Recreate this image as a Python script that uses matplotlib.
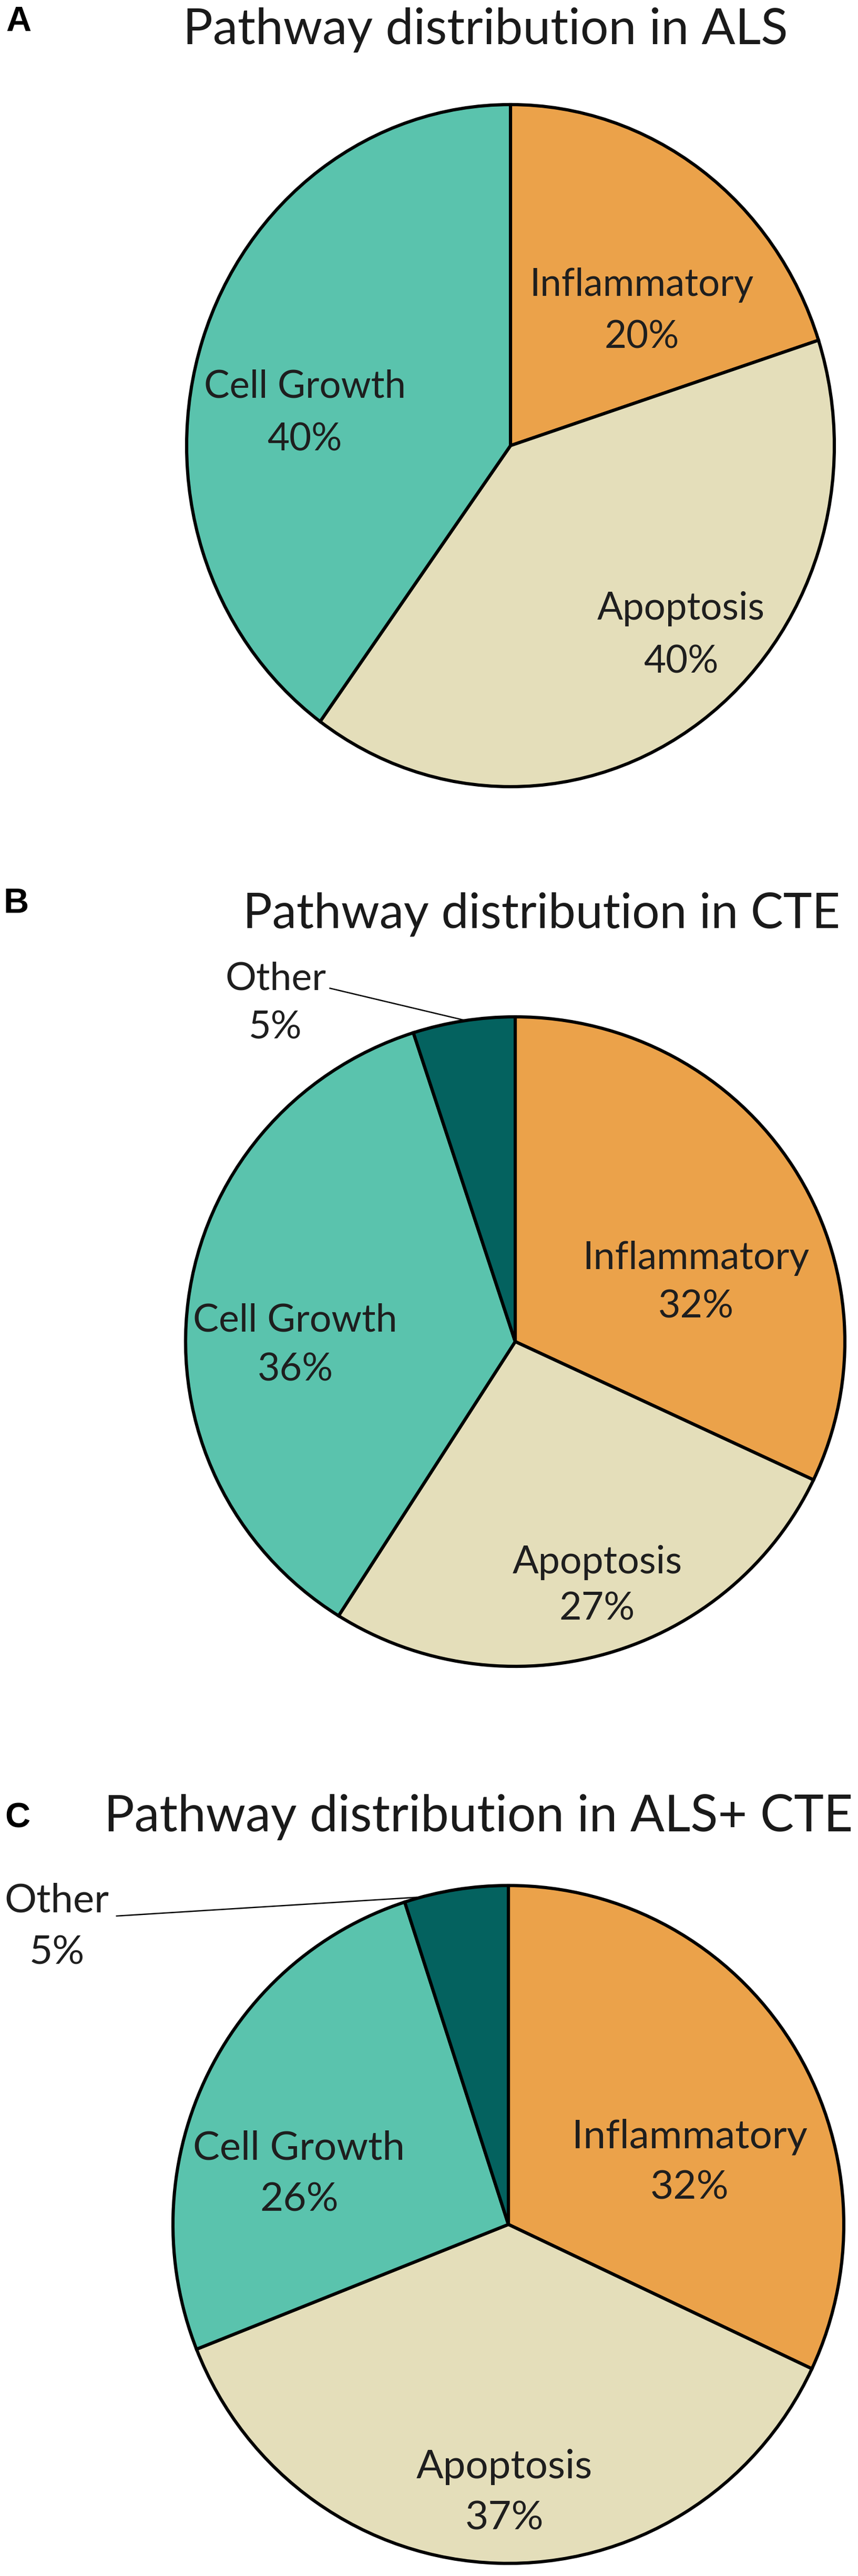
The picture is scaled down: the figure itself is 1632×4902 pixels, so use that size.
import matplotlib
matplotlib.use('Agg')
import matplotlib.pyplot as plt

# data
categories_als = ['Inflammatory', 'Apoptosis', 'Cell Growth']
values_als = [20, 40, 40]
categories_cte = ['Inflammatory', 'Apoptosis', 'Cell Growth', 'Other']
values_cte = [32, 27, 36, 5]
categories_both = ['Inflammatory', 'Apoptosis', 'Cell Growth', 'Other']
values_both = [32, 37, 26, 5]
titles = ['Pathway distribution in ALS', 'Pathway distribution in CTE',
          'Pathway distribution in ALS+ CTE']
letters = ['A', 'B', 'C']

colors = {'Inflammatory': '#EBA24A', 'Apoptosis': '#E4DEBA',
          'Cell Growth': '#5AC3AD', 'Other': '#04625F'}

W, H, DPI = 1633, 4902, 100
plt.rcParams['font.family'] = ['Lato', 'DejaVu Sans']

fig = plt.figure(figsize=(W / DPI, H / DPI), dpi=DPI)
renderer = fig.canvas.get_renderer()


def px(x, y):
    return x / W, 1 - y / H


def fit_width(txt, target):
    w = txt.get_window_extent(renderer).width
    txt.set_fontsize(txt.get_fontsize() * target / w)
    return txt.get_fontsize()


# layout in pixels: pie centre/radii, title centre/width, letter centre,
# label spots in pie units (name line, percent line)
panels = [
    dict(cats=categories_als, vals=values_als, center=(971, 848), radii=(616, 649),
         title_xy=(923, 57), title_w=1150, letter_xy=(35, 42), label_w=426,
         spots={'Inflammatory': (0.405, 0.471, 0.317),
                'Cell Growth': (-0.635, 0.173, 0.017),
                'Apoptosis': (0.527, -0.479, -0.635)},
         leader=None),
    dict(cats=categories_cte, vals=values_cte, center=(980, 2553), radii=(627, 618),
         title_xy=(1030, 1740), title_w=1136, letter_xy=(31, 1720), label_w=431,
         spots={'Inflammatory': (0.549, 0.256, 0.106),
                'Cell Growth': (-0.667, 0.064, -0.087),
                'Apoptosis': (0.249, -0.680, -0.823),
                'Other': (-0.727, 1.116, 0.966)},
         leader=((-0.562, 1.088), (-0.156, 0.99))),
    dict(cats=categories_both, vals=values_both, center=(967, 4233), radii=(638, 645),
         title_xy=(910, 3458), title_w=1424, letter_xy=(33, 3460), label_w=447,
         spots={'Inflammatory': (0.540, 0.258, 0.108),
                'Cell Growth': (-0.624, 0.225, 0.073),
                'Apoptosis': (-0.012, -0.715, -0.866),
                'Other': (-1.346, 0.955, 0.802)},
         leader=((-1.168, 0.910), (-0.259, 0.966))),
]

for p, title, letter in zip(panels, titles, letters):
    cx, cy = p['center']
    rx, ry = p['radii']
    ax = fig.add_axes([(cx - rx) / W, 1 - (cy + ry) / H, 2 * rx / W, 2 * ry / H])
    wedges, _ = ax.pie(p['vals'], colors=[colors[c] for c in p['cats']],
                       startangle=90, counterclock=False,
                       wedgeprops=dict(edgecolor='black', linewidth=4.4))
    for w in wedges:
        w.set_clip_on(False)
    ax.set_aspect('auto')
    ax.set_xlim(-1, 1)
    ax.set_ylim(-1, 1)
    ax.axis('off')

    # labels
    probe = ax.text(0, 0, 'Inflammatory', fontsize=30)
    fs = fit_width(probe, p['label_w'])
    probe.remove()
    for cat, val in zip(p['cats'], p['vals']):
        u, v1, v2 = p['spots'][cat]
        ax.text(u, v1, cat, ha='center', va='center', fontsize=fs,
                color='#1e1e1e', clip_on=False)
        ax.text(u, v2, f'{val}%', ha='center', va='center', fontsize=fs,
                color='#1e1e1e', clip_on=False)
    if p['leader'] is not None:
        (u1, v1), (u2, v2) = p['leader']
        ax.plot([u1, u2], [v1, v2], color='black', lw=1.8, clip_on=False)

    # title and panel letter
    t = fig.text(*px(*p['title_xy']), title, ha='center', va='center',
                 fontsize=50, color='#1a1a1a')
    fit_width(t, p['title_w'])
    fig.text(*px(*p['letter_xy']), letter, ha='center', va='center',
             fontsize=48, fontweight='bold', family='Liberation Sans', color='black')

fig.savefig('out.png', dpi=DPI, facecolor='white')
